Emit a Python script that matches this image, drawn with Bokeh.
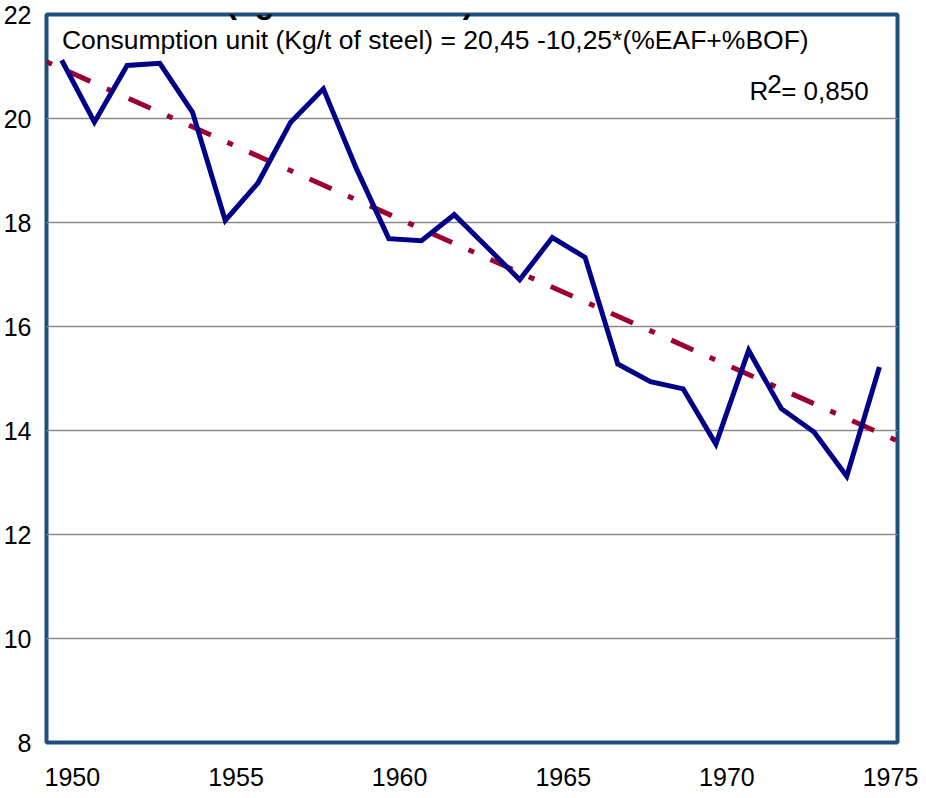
from bokeh.plotting import figure
from bokeh.models import Range1d, LinearAxis, FixedTicker, Label
from bokeh.embed import file_html
from bokeh.resources import INLINE

# ---- data ----
years = list(range(1950, 1976))
consumption = [21.12, 19.93, 21.02, 21.06, 20.12, 18.04, 18.76, 19.93, 20.57, 19.05,
               17.69, 17.65, 18.15, 17.53, 16.90, 17.71, 17.33, 15.28, 14.94, 14.80,
               13.74, 15.54, 14.42, 13.97, 13.12, 15.22]
x_start, x_end = 1949.535, 1975.552          # plotted span of the year axis
trend_years = [x_start, x_end]
trend_values = [21.09, 13.80]                # linear trend at the span ends
x_tick_labels = [1950, 1955, 1960, 1965, 1970, 1975]
y_ticks = [8, 10, 12, 14, 16, 18, 20, 22]

FONT = "Liberation Sans"

# reference-pixel helpers for annotation placement only
def ax(px):
    return 1950 + (px - 59.3) / 32.9

def ay(py):
    return 22 - (py - 14) / 52.0

p = figure(width=918, height=790,
           x_range=Range1d(x_start, x_end), y_range=Range1d(8, 22),
           output_backend="svg", toolbar_location=None,
           x_axis_location=None,
           min_border_left=41, min_border_right=21,
           min_border_top=14, min_border_bottom=48)

p.background_fill_color = "white"
p.border_fill_color = "white"
p.outline_line_color = "#1d4f80"
p.outline_line_width = 4

# y axis
yax = p.yaxis[0]
yax.ticker = FixedTicker(ticks=y_ticks)
yax.axis_line_color = None
yax.major_tick_line_color = None
yax.minor_tick_line_color = None
yax.major_label_text_font = FONT
yax.major_label_text_font_size = "25px"
yax.major_label_text_color = "black"
yax.major_label_standoff = 9

# x axis labels (own range: labels sit slightly right of the yearly points)
p.extra_x_ranges = {"lab": Range1d(1949.21, 1975.213)}
xax = LinearAxis(x_range_name="lab", ticker=FixedTicker(ticks=x_tick_labels))
xax.axis_line_color = None
xax.major_tick_line_color = None
xax.minor_tick_line_color = None
xax.major_label_text_font = FONT
xax.major_label_text_font_size = "25px"
xax.major_label_text_color = "black"
xax.major_label_standoff = 19
p.add_layout(xax, "below")

p.xgrid.visible = False
p.ygrid.ticker = FixedTicker(ticks=y_ticks)
p.ygrid.grid_line_color = "#8a8a8a"
p.ygrid.grid_line_width = 1.5

# trend line
p.line(trend_years, trend_values, line_color="#9b0030", line_width=5,
       line_dash="6 18 24 18", line_cap="butt")
# data line
p.line(years, consumption, line_color="#000088", line_width=5, line_join="miter")

# texts (middle baseline; y = ink baseline - 0.3465 * font size)
def txt(x_px, base_px, text, size, bold=False):
    p.add_layout(Label(x=ax(x_px), y=ay(base_px - 0.3465 * size), text=text,
                       text_font=FONT, text_font_size=f"{size}px",
                       text_font_style="bold" if bold else "normal",
                       text_baseline="middle", text_align="left",
                       text_color="black"))

# title: only its lower part shows above the frame, as in the reference
p.add_layout(Label(x=ax(37), y=ay(5), y_offset=4,
                   text="before 1975 (kg/ ton of steel)",
                   text_font=FONT, text_font_size="32px", text_font_style="bold",
                   text_baseline="middle", text_align="left", text_color="black"))
txt(59.5, 48.5, "Consumption unit (Kg/t of steel) = 20,45 -10,25*(%EAF+%BOF)", 26.5)
txt(751, 99.3, "R", 26)
txt(769, 92.7, "2", 26)
txt(783, 99.3, "= 0,850", 26)

open("out.html", "w").write(file_html(p, INLINE))
